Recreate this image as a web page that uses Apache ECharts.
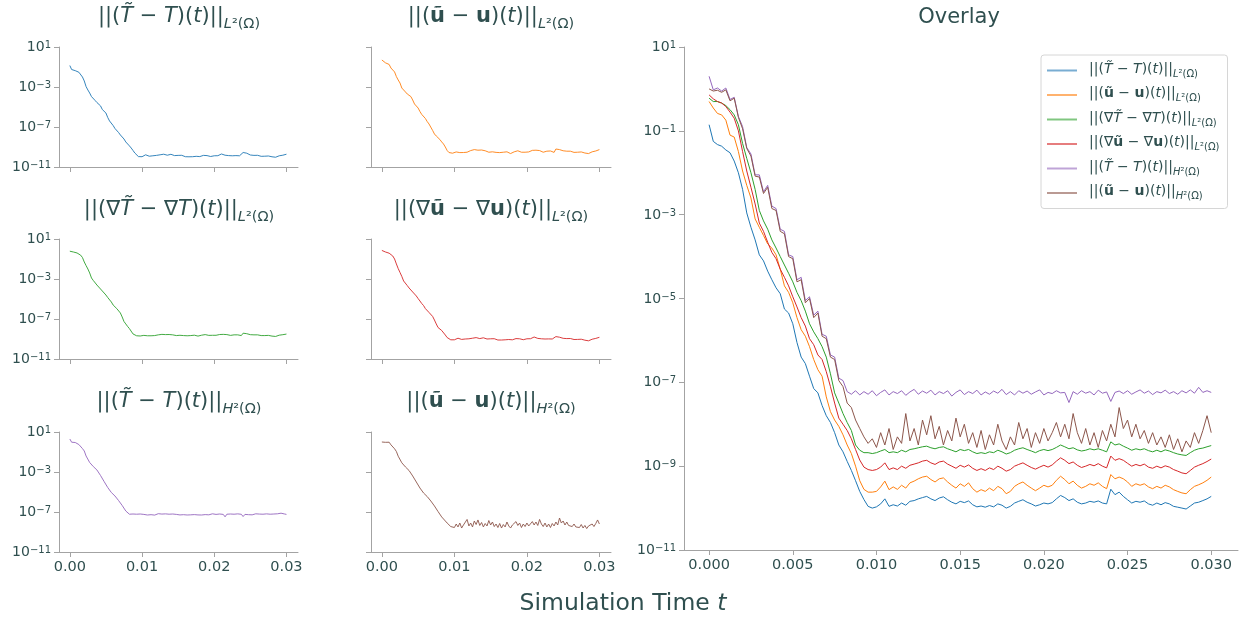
<!DOCTYPE html>
<html><head><meta charset="utf-8">
<script src="https://cdn.jsdelivr.net/npm/echarts@6/dist/echarts.min.js"></script>
<style>html,body{margin:0;padding:0;background:#fff}#c{width:1247px;height:621px}</style>
</head><body><div id="c"></div>
<script>
// ---- data (time in seconds, error norms) ----
const times = [0,0.00025,0.0005,0.00075,0.001,0.00125,0.0015,0.00175,0.002,0.00225,
0.0025,0.00275,0.003,0.00325,0.0035,0.00375,0.004,0.00425,0.0045,0.00475,
0.005,0.00525,0.0055,0.00575,0.006,0.00625,0.0065,0.00675,0.007,0.00725,
0.0075,0.00775,0.008,0.00825,0.0085,0.00875,0.009,0.00925,0.0095,0.00975,
0.01,0.01025,0.0105,0.01075,0.011,0.01125,0.0115,0.01175,0.012,0.01225,
0.0125,0.01275,0.013,0.01325,0.0135,0.01375,0.014,0.01425,0.0145,0.01475,
0.015,0.01525,0.0155,0.01575,0.016,0.01625,0.0165,0.01675,0.017,0.01725,
0.0175,0.01775,0.018,0.01825,0.0185,0.01875,0.019,0.01925,0.0195,0.01975,
0.02,0.02025,0.0205,0.02075,0.021,0.02125,0.0215,0.02175,0.022,0.02225,
0.0225,0.02275,0.023,0.02325,0.0235,0.02375,0.024,0.02425,0.0245,0.02475,
0.025,0.02525,0.0255,0.02575,0.026,0.02625,0.0265,0.02675,0.027,0.02725,
0.0275,0.02775,0.028,0.02825,0.0285,0.02875,0.029,0.02925,0.0295,0.02975,
0.03];

const errT_L2 = [0.14,5.6e-2,4.7e-2,4.3e-2,3.5e-2,3.0e-2,1.9e-2,1.0e-2,4.0e-3,1.1e-3,
5.0e-4,2.5e-4,1.1e-4,7.9e-5,4.5e-5,2.8e-5,1.8e-5,1.3e-5,5.6e-6,4.5e-6,
2.5e-6,8.9e-7,4.0e-7,2.8e-7,1.4e-7,7.1e-8,5.6e-8,2.8e-8,1.6e-8,1.1e-8,
6.3e-9,3.2e-9,2.2e-9,1.3e-9,7.9e-10,4.5e-10,2.5e-10,1.6e-10,1.1e-10,1.0e-10,
1.07e-10,1.26e-10,1.66e-10,1.1e-10,1.2e-10,1.12e-10,1.32e-10,1.17e-10,1.45e-10,1.51e-10,
1.66e-10,1.78e-10,1.9e-10,1.66e-10,1.51e-10,1.74e-10,1.86e-10,1.58e-10,1.38e-10,1.26e-10,
1.45e-10,1.35e-10,1.48e-10,1.2e-10,1.07e-10,1.12e-10,1.05e-10,1.15e-10,1.07e-10,1.26e-10,
1.17e-10,1.0e-10,1.1e-10,1.32e-10,1.45e-10,1.58e-10,1.38e-10,1.26e-10,1.12e-10,1.2e-10,
1.32e-10,1.26e-10,1.35e-10,1.66e-10,2.0e-10,1.78e-10,1.51e-10,1.66e-10,1.38e-10,1.26e-10,
1.32e-10,1.45e-10,1.38e-10,1.48e-10,1.32e-10,1.26e-10,2.82e-10,2.09e-10,2.4e-10,1.9e-10,
1.58e-10,1.32e-10,1.45e-10,1.38e-10,1.48e-10,1.26e-10,1.17e-10,1.32e-10,1.2e-10,1.35e-10,
1.26e-10,1.1e-10,1.05e-10,1.0e-10,9.5e-11,1.12e-10,1.32e-10,1.38e-10,1.51e-10,1.66e-10,
1.9e-10];

const errU_L2 = [0.50,0.35,0.26,0.24,0.18,0.079,0.071,0.032,0.011,5.0e-3,
2.5e-3,7.9e-4,5.0e-4,3.2e-4,2.0e-4,1.6e-4,1.1e-4,5.0e-5,2.0e-5,1.4e-5,
7.9e-6,3.5e-6,1.8e-6,1.26e-6,7.1e-7,3.5e-7,2.0e-7,1.4e-7,4.5e-8,2.0e-8,
1.26e-8,8.9e-9,5.6e-9,3.2e-9,2.0e-9,1.0e-9,4.5e-10,2.8e-10,2.4e-10,2.4e-10,
2.5e-10,3.2e-10,4.4e-10,2.75e-10,3.2e-10,2.8e-10,3.5e-10,3.0e-10,4.0e-10,4.4e-10,
5.0e-10,5.5e-10,5.75e-10,4.8e-10,4.2e-10,5.0e-10,5.25e-10,4.2e-10,3.5e-10,3.0e-10,
3.8e-10,3.3e-10,4.0e-10,2.9e-10,2.4e-10,2.75e-10,2.5e-10,3.0e-10,2.6e-10,3.3e-10,
2.9e-10,2.2e-10,2.5e-10,3.3e-10,3.8e-10,4.2e-10,3.5e-10,3.0e-10,2.6e-10,3.0e-10,
3.5e-10,3.2e-10,3.5e-10,4.6e-10,5.75e-10,4.8e-10,3.8e-10,4.4e-10,3.5e-10,3.0e-10,
3.3e-10,3.8e-10,3.5e-10,4.0e-10,3.3e-10,2.9e-10,6.3e-10,5.0e-10,5.5e-10,5.0e-10,
4.2e-10,3.3e-10,3.8e-10,3.5e-10,3.8e-10,3.2e-10,2.9e-10,3.3e-10,3.0e-10,3.5e-10,
3.2e-10,2.75e-10,2.5e-10,2.3e-10,2.2e-10,2.75e-10,3.3e-10,3.6e-10,4.0e-10,4.6e-10,
5.5e-10];

const errGradT_L2 = [0.60,0.50,0.50,0.46,0.40,0.32,0.24,0.14,0.050,0.022,
0.010,4.0e-3,1.26e-3,7.1e-4,4.5e-4,2.5e-4,1.6e-4,1.0e-4,6.3e-5,4.0e-5,
2.5e-5,1.4e-5,8.9e-6,5.0e-6,2.5e-6,1.6e-6,1.1e-6,7.1e-7,4.0e-7,1.6e-7,
5.6e-8,3.2e-8,1.8e-8,1.1e-8,7.1e-9,3.2e-9,2.4e-9,2.1e-9,2.1e-9,2.0e-9,
2.1e-9,2.3e-9,2.5e-9,2.1e-9,2.2e-9,2.1e-9,2.4e-9,2.2e-9,2.5e-9,2.6e-9,
2.75e-9,2.9e-9,3.0e-9,2.75e-9,2.6e-9,2.8e-9,2.9e-9,2.6e-9,2.4e-9,2.2e-9,
2.5e-9,2.35e-9,2.5e-9,2.2e-9,2.0e-9,2.1e-9,2.0e-9,2.2e-9,2.1e-9,2.4e-9,
2.2e-9,1.95e-9,2.1e-9,2.4e-9,2.6e-9,2.75e-9,2.5e-9,2.3e-9,2.1e-9,2.35e-9,
2.5e-9,2.35e-9,2.5e-9,2.8e-9,3.2e-9,2.9e-9,2.6e-9,2.75e-9,2.45e-9,2.3e-9,
2.4e-9,2.6e-9,2.45e-9,2.6e-9,2.4e-9,2.2e-9,3.8e-9,3.2e-9,3.4e-9,3.0e-9,
2.7e-9,2.4e-9,2.6e-9,2.45e-9,2.6e-9,2.35e-9,2.2e-9,2.4e-9,2.2e-9,2.45e-9,
2.3e-9,2.1e-9,1.95e-9,1.86e-9,1.8e-9,2.1e-9,2.4e-9,2.6e-9,2.7e-9,2.9e-9,
3.1e-9];

const errGradU_L2 = [0.72,0.58,0.50,0.46,0.38,0.28,0.20,0.10,0.032,0.011,
4.5e-3,1.8e-3,6.3e-4,4.0e-4,2.2e-4,1.26e-4,8.9e-5,5.0e-5,3.2e-5,2.0e-5,
1.1e-5,6.3e-6,3.5e-6,2.2e-6,1.1e-6,7.9e-7,4.5e-7,3.5e-7,1.8e-7,7.9e-8,
3.2e-8,1.4e-8,1.0e-8,7.1e-9,4.5e-9,2.5e-9,1.4e-9,9.5e-10,8.3e-10,7.9e-10,
8.3e-10,9.5e-10,1.2e-9,8.3e-10,9.1e-10,8.3e-10,1.0e-9,8.9e-10,1.05e-9,1.12e-9,
1.2e-9,1.32e-9,1.38e-9,1.2e-9,1.1e-9,1.26e-9,1.32e-9,1.12e-9,1.0e-9,8.9e-10,
1.05e-9,9.5e-10,1.07e-9,8.9e-10,7.9e-10,8.7e-10,7.9e-10,9.1e-10,8.3e-10,1.0e-9,
8.9e-10,7.6e-10,8.3e-10,1.0e-9,1.1e-9,1.2e-9,1.05e-9,9.3e-10,8.5e-10,9.5e-10,
1.05e-9,9.5e-10,1.07e-9,1.32e-9,1.58e-9,1.38e-9,1.15e-9,1.26e-9,1.05e-9,9.3e-10,
1.0e-9,1.1e-9,1.02e-9,1.15e-9,1.0e-9,9.1e-10,1.74e-9,1.38e-9,1.51e-9,1.38e-9,
1.17e-9,1.0e-9,1.1e-9,1.02e-9,1.12e-9,9.5e-10,8.9e-10,1.0e-9,9.1e-10,1.02e-9,
9.5e-10,8.3e-10,7.6e-10,6.9e-10,6.6e-10,7.9e-10,9.5e-10,1.05e-9,1.15e-9,1.29e-9,
1.48e-9];

const errT_H2 = [2.0,0.95,1.05,0.89,1.05,0.56,0.63,0.22,0.126,0.040,
0.028,8.9e-3,8.9e-3,3.5e-3,5.0e-3,1.6e-3,1.4e-3,4.5e-4,4.0e-4,1.1e-4,
1.0e-4,2.8e-5,3.2e-5,8.9e-6,1.1e-5,4.0e-6,5.0e-6,1.4e-6,1.26e-6,4.5e-7,
4.0e-7,1.26e-7,1.1e-7,6.0e-8,5.2e-8,6.3e-8,5.0e-8,6.0e-8,5.2e-8,6.3e-8,
4.8e-8,5.75e-8,6.6e-8,5.0e-8,6.0e-8,5.4e-8,6.3e-8,4.9e-8,5.9e-8,6.8e-8,
5.2e-8,6.2e-8,5.5e-8,6.5e-8,5.0e-8,6.0e-8,5.4e-8,6.3e-8,4.7e-8,5.75e-8,
6.6e-8,5.1e-8,6.0e-8,5.4e-8,6.5e-8,5.0e-8,5.9e-8,5.2e-8,6.2e-8,5.5e-8,
6.8e-8,5.1e-8,6.0e-8,5.0e-8,6.3e-8,5.5e-8,6.2e-8,5.2e-8,5.9e-8,6.6e-8,
5.0e-8,5.75e-8,5.4e-8,6.3e-8,5.6e-8,5.75e-8,3.3e-8,6.0e-8,5.2e-8,6.3e-8,
5.5e-8,6.0e-8,5.0e-8,6.5e-8,5.5e-8,5.9e-8,3.5e-8,5.75e-8,6.2e-8,5.4e-8,
6.3e-8,5.2e-8,5.9e-8,6.6e-8,5.5e-8,6.2e-8,5.1e-8,6.0e-8,5.6e-8,6.5e-8,
5.4e-8,6.0e-8,5.2e-8,6.3e-8,5.6e-8,6.6e-8,5.5e-8,7.6e-8,5.75e-8,6.3e-8,
5.75e-8];

const errU_H2 = [1.0,0.89,0.93,0.83,0.95,0.52,0.60,0.21,0.112,0.038,
0.025,8.3e-3,7.9e-3,3.2e-3,4.5e-3,1.4e-3,1.26e-3,4.0e-4,3.5e-4,1.0e-4,
8.9e-5,2.5e-5,2.8e-5,7.9e-6,1.0e-5,3.5e-6,4.5e-6,1.26e-6,1.1e-6,4.0e-7,
3.5e-7,1.1e-7,7.9e-8,3.2e-8,2.5e-8,1.26e-8,7.9e-9,5.0e-9,3.5e-9,4.5e-9,
2.8e-9,6.3e-9,3.2e-9,7.9e-9,2.5e-9,5.0e-9,3.5e-9,1.8e-8,4.0e-9,7.9e-9,
3.2e-9,1.26e-8,5.6e-9,1.6e-8,4.5e-9,8.9e-9,3.2e-9,7.1e-9,4.0e-9,1.4e-8,
5.0e-9,1.0e-8,3.5e-9,6.3e-9,2.8e-9,7.1e-9,2.5e-9,5.6e-9,3.2e-9,1.0e-8,
4.0e-9,2.5e-9,5.0e-9,3.2e-9,1.1e-8,4.5e-9,7.9e-9,2.8e-9,6.3e-9,3.5e-9,
7.9e-9,4.0e-9,6.3e-9,1.1e-8,5.0e-9,1.0e-8,4.5e-9,1.8e-8,6.3e-9,3.5e-9,
7.9e-9,3.2e-9,6.3e-9,2.8e-9,7.1e-9,4.0e-9,1.0e-8,5.0e-9,2.5e-8,7.9e-9,
1.26e-8,5.0e-9,1.0e-8,4.5e-9,7.1e-9,3.5e-9,6.3e-9,3.2e-9,5.0e-9,2.8e-9,
5.6e-9,2.5e-9,4.5e-9,2.2e-9,4.0e-9,2.8e-9,6.3e-9,3.5e-9,7.1e-9,1.6e-8,
6.3e-9];

// ---- tick values ----
const smallXTicks = [0, 0.01, 0.02, 0.03];
const overlayXTicks = [0, 0.005, 0.01, 0.015, 0.02, 0.025, 0.03];
const smallYTicks = [1e-11, 1e-7, 1e-3, 10];
const overlayYTicks = [1e-11, 1e-9, 1e-7, 1e-5, 1e-3, 1e-1, 10];

// ---- math labels: [style, text] ----
const labelParts = {
  T_L2:  [['n','||('],['i','T\u0303'],['n',' \u2212 '],['i','T'],['n',')('],['i','t'],['n',')||'],['si','L'],['sn','\u00b2(\u03a9)']],
  u_L2:  [['n','||('],['b','\u0169'],['n',' \u2212 '],['b','u'],['n',')('],['i','t'],['n',')||'],['si','L'],['sn','\u00b2(\u03a9)']],
  gT_L2: [['n','||(\u2207'],['i','T\u0303'],['n',' \u2212 \u2207'],['i','T'],['n',')('],['i','t'],['n',')||'],['si','L'],['sn','\u00b2(\u03a9)']],
  gu_L2: [['n','||(\u2207'],['b','\u0169'],['n',' \u2212 \u2207'],['b','u'],['n',')('],['i','t'],['n',')||'],['si','L'],['sn','\u00b2(\u03a9)']],
  T_H2:  [['n','||('],['i','T\u0303'],['n',' \u2212 '],['i','T'],['n',')('],['i','t'],['n',')||'],['si','H'],['sn','\u00b2(\u03a9)']],
  u_H2:  [['n','||('],['b','\u0169'],['n',' \u2212 '],['b','u'],['n',')('],['i','t'],['n',')||'],['si','H'],['sn','\u00b2(\u03a9)']]
};
const seriesKeys = ['T_L2','u_L2','gT_L2','gu_L2','T_H2','u_H2'];
const seriesData = [errT_L2, errU_L2, errGradT_L2, errGradU_L2, errT_H2, errU_H2];
const colors = ['#1f77b4','#ff7f0e','#2ca02c','#d62728','#9467bd','#8c564b'];

const FONT = 'DejaVu Sans';
const TXT = '#2f4f4f';
const AX = '#a3a3a3';

function rich(key, p) {
  return labelParts[key].map(([s, t]) => '{' + p + s + '|' + t + '}').join('');
}
function richStyles(p, size, subSize, forGraphic) {
  const c = forGraphic ? {fill: TXT} : {color: TXT};
  const lh = Math.round(size * 1.22);
  const subPad = Math.round(size * 0.5);
  const base = Object.assign({fontFamily: FONT, fontSize: size, lineHeight: lh, verticalAlign: 'top'}, c);
  const sub = Object.assign({fontFamily: FONT, fontSize: subSize, lineHeight: Math.round(subSize * 1.1), verticalAlign: 'top', padding: [subPad, 0, 0, 0]}, c);
  const o = {};
  o[p + 'n'] = Object.assign({}, base);
  o[p + 'i'] = Object.assign({}, base, {fontStyle: 'italic'});
  o[p + 'b'] = Object.assign({}, base, {fontWeight: 'bold'});
  o[p + 'si'] = Object.assign({}, sub, {fontStyle: 'italic'});
  o[p + 'sn'] = Object.assign({}, sub);
  return o;
}

const panelGrids = [
  {left: 59,  top: 47,  width: 239, height: 120},
  {left: 371, top: 47,  width: 240, height: 120},
  {left: 59,  top: 239, width: 239, height: 120},
  {left: 371, top: 239, width: 240, height: 120},
  {left: 59,  top: 432, width: 239, height: 120},
  {left: 371, top: 432, width: 240, height: 120},
  {left: 684, top: 47,  width: 554, height: 503}
];

const yRich = {
  b: {fontFamily: FONT, fontSize: 14, lineHeight: 15, verticalAlign: 'bottom', color: TXT},
  s: {fontFamily: FONT, fontSize: 10, lineHeight: 11, verticalAlign: 'bottom', padding: [0, 0, 4, 0], color: TXT}
};
function yFmt(v) {
  const e = Math.round(Math.log10(v));
  return '{b|10}{s|' + (e < 0 ? '\u2212' + (-e) : String(e)) + '}';
}

const xAxes = [], yAxes = [];
panelGrids.forEach((g, i) => {
  const overlay = i === 6;
  const xt = overlay ? overlayXTicks : smallXTicks;
  const yt = overlay ? overlayYTicks : smallYTicks;
  const showX = overlay || i >= 4;
  const showY = overlay || i % 2 === 0;
  xAxes.push({
    type: 'value', gridIndex: i, min: -0.0015, max: 0.0316,
    axisLine: {show: true, onZero: false, lineStyle: {color: AX, width: 1}},
    axisTick: {show: true, customValues: xt, length: 5, lineStyle: {color: AX, width: 1}},
    axisLabel: {show: showX, customValues: xt, formatter: v => v.toFixed(overlay ? 3 : 2),
      color: TXT, fontFamily: FONT, fontSize: 14.5, margin: 8},
    splitLine: {show: false}
  });
  yAxes.push({
    type: 'log', logBase: 10, gridIndex: i, min: 1e-11, max: 10,
    axisLine: {show: true, onZero: false, lineStyle: {color: AX, width: 1}},
    axisTick: {show: true, customValues: yt, length: 5, lineStyle: {color: AX, width: 1}},
    axisLabel: {show: showY, customValues: yt, formatter: yFmt, rich: yRich, margin: 8},
    splitLine: {show: false}, minorTick: {show: false}
  });
});

const series = [];
seriesKeys.forEach((k, i) => {
  const pts = times.map((t, j) => [t, seriesData[i][j]]);
  series.push({
    name: 'small_' + k, type: 'line', xAxisIndex: i, yAxisIndex: i, data: pts,
    symbol: 'none', showSymbol: false, silent: true,
    lineStyle: {color: colors[i], width: 0.9}, itemStyle: {color: colors[i]}
  });
});
seriesKeys.forEach((k, i) => {
  const pts = times.map((t, j) => [t, seriesData[i][j]]);
  series.push({
    name: k, type: 'line', xAxisIndex: 6, yAxisIndex: 6, data: pts,
    symbol: 'none', showSymbol: false, silent: true,
    lineStyle: {color: colors[i], width: 1}, itemStyle: {color: colors[i]}
  });
});

const titleRich = richStyles('t', 21, 14.5, true);
const titlePos = [[179, 19], [491, 19], [179, 212], [491, 212], [179, 404], [491, 404]];
const graphics = seriesKeys.map((k, i) => ({
  type: 'text', x: titlePos[i][0], y: titlePos[i][1], silent: true,
  style: {text: rich(k, 't'), rich: titleRich, align: 'center', verticalAlign: 'middle', fill: TXT}
}));
graphics.push({
  type: 'text', x: 959, y: 18, silent: true,
  style: {text: 'Overlay', fontFamily: FONT, fontSize: 21, fill: TXT, align: 'center', verticalAlign: 'middle'}
});
graphics.push({
  type: 'text', x: 623, y: 604, silent: true,
  style: {text: '{r|Simulation Time }{it|t}', align: 'center', verticalAlign: 'middle',
    rich: {r: {fontFamily: FONT, fontSize: 23.5, fill: TXT}, it: {fontFamily: FONT, fontSize: 23.5, fontStyle: 'italic', fill: TXT}}}
});

const legendRich = richStyles('l', 14, 10, false);

const chart = echarts.init(document.getElementById('c'), null, {renderer: 'canvas'});
chart.setOption({
  animation: false,
  backgroundColor: '#ffffff',
  grid: panelGrids.map(g => Object.assign({containLabel: false, outerBoundsMode: 'none'}, g)),
  xAxis: xAxes,
  yAxis: yAxes,
  legend: {
    show: true, data: seriesKeys, orient: 'vertical', left: 1041, top: 55,
    padding: [7, 8, 7, 6], itemWidth: 30, itemHeight: 2, itemGap: 7.5, icon: 'rect',
    selectedMode: false, backgroundColor: '#ffffff', borderColor: '#d6d6d6', borderWidth: 1, borderRadius: 3,
    itemStyle: {opacity: 0.6},
    formatter: name => rich(name, 'l'),
    textStyle: {color: TXT, fontFamily: FONT, fontSize: 14, rich: legendRich, padding: [0, 0, 0, 7]}
  },
  graphic: graphics,
  series: series
});
</script></body></html>
